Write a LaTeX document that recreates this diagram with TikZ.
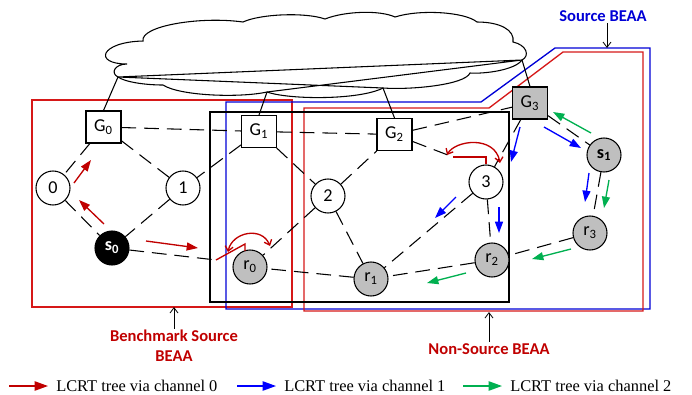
\documentclass[tikz,border=0pt]{standalone}
\usepackage{fontspec}
\setmainfont{Carlito}
\newfontfamily\legendfont{Liberation Serif}
\usetikzlibrary{arrows.meta}
\definecolor{chred}{RGB}{192,0,0}
\definecolor{chblue}{RGB}{0,0,255}
\definecolor{chgreen}{RGB}{0,176,80}
\definecolor{boxred}{RGB}{214,24,24}
\definecolor{boxblue}{RGB}{0,0,214}
\definecolor{nodegray}{RGB}{191,191,191}

\begin{document}
\begin{tikzpicture}[x=0.75pt,y=0.75pt,yscale=-1,xscale=1,
  lbl/.style={font=\fontsize{13.6}{16}\selectfont},
  gway/.style={lbl,draw,fill=white,line width=0.8pt,minimum width=26.25pt,minimum height=24pt,inner sep=0pt},
  su/.style={lbl,draw,circle,fill=white,line width=0.8pt,minimum size=25.5pt,inner sep=0pt},
  pu/.style={su,fill=nodegray},
  link/.style={line width=0.8pt,dash pattern=on 11pt off 6pt},
  wire/.style={line width=0.8pt},
  area/.style={line width=1pt},
  ch0/.style={chred,line width=1pt,-{Triangle[length=8.5pt,width=6pt]}},
  ch1/.style={chblue,line width=1pt,-{Triangle[length=8.5pt,width=6pt]}},
  ch2/.style={chgreen,line width=1pt,-{Triangle[length=8.5pt,width=6pt]}},
  swap/.style={chred,line width=1pt},
  hop/.style={chred,line width=1pt,{Straight Barb[length=3.5pt,width=6pt]}-{Straight Barb[length=3.5pt,width=6pt]}},
  tag/.style={font=\bfseries\fontsize{12.4}{15}\selectfont,align=center,inner sep=1pt},
  pointer/.style={line width=0.6pt,-{Straight Barb[length=4pt,width=6pt]}},
  legtext/.style={font=\legendfont\fontsize{12.3}{14}\selectfont,anchor=west,inner sep=0pt},
  legarrow/.style={line width=1pt,shorten >=6pt,-{Triangle[length=10pt,width=7pt]}}
]
\useasboundingbox (0,0) rectangle (692,394);

\draw[area,boxred] (32,100) rectangle (292,307);
\draw[area,boxblue] (226,102) -- (481,102) -- (555,48) -- (650,48) -- (650,309) -- (226,309) -- cycle;
\draw[area,boxred] (304,108) -- (489,108) -- (563,52) -- (643,52) -- (643,311) -- (304,311) -- cycle;
\draw[line width=2.2pt] (210,112) rectangle (509,302);

\draw[wire] (118,77) .. controls (110,73) and (115,64) .. (127,64) .. controls (93,64) and (100,42) .. (143,41) .. controls (140,26) and (200,16) .. (243,22) .. controls (260,14) and (305,12) .. (325,19) .. controls (345,11) and (380,10) .. (395,17) .. controls (420,9) and (465,12) .. (477,22) .. controls (500,22) and (515,30) .. (513,42) .. controls (527,45) and (530,56) .. (522,60) .. controls (515,70) and (485,74) .. (470,73) .. controls (465,85) and (410,90) .. (383,88) .. controls (360,100) and (290,100) .. (267,92) .. controls (240,98) and (180,96) .. (163,85) .. controls (145,85) and (125,82) .. (118,77) -- cycle;
\coordinate (cl) at (118,77);
\coordinate (cr) at (522,60);
\coordinate (cb1) at (267,92);
\coordinate (cb2) at (383,88);
\draw[wire] (cl) -- (cr) (cl) -- (cb2) (cb1) -- (cr);

\node[gway] (G0) at (103.5,127) {G\textsubscript{0}};
\node[gway] (G1) at (259,131.5) {G\textsubscript{1}};
\node[gway] (G2) at (394.5,134.5) {G\textsubscript{2}};
\node[gway,fill=nodegray] (G3) at (530,103) {G\textsubscript{3}};
\node[su] (n0) at (53,188) {0};
\node[su] (n1) at (183,188) {1};
\node[su] (n2) at (328,196) {2};
\node[su] (n3) at (486,182) {3};
\node[su,fill=black,text=white,font=\bfseries\fontsize{13.6}{16}\selectfont] (s0) at (112,248) {s\textsubscript{0}};
\node[pu] (r0) at (250,267) {r\textsubscript{0}};
\node[pu] (r1) at (371,279) {r\textsubscript{1}};
\node[pu] (r2) at (492,260) {r\textsubscript{2}};
\node[pu,font=\bfseries\fontsize{13.6}{16}\selectfont] (s1) at (604,155) {s\textsubscript{1}};
\node[pu] (r3) at (590,233) {r\textsubscript{3}};
\coordinate (sw0) at (216,260);
\coordinate (sw3) at (453,157);

\draw[wire] (cl) -- (G0.north) (cb1) -- (G1.north) (cb2) -- (G2.north) (cr) -- (G3.north);
\draw[link] (G0) -- (n0) (G0) -- (n1) (G0) -- (G1) (n0) -- (s0) (n1) -- (s0) (s0) -- (sw0);
\draw[link] (G1) -- (n1) (G1) -- (n2) (G1) -- (G2) (n2) -- (r0) (n2) -- (r1) (n2) -- (G2);
\draw[link] (G2) -- (sw3) (G2) -- (G3) (G3) -- (n3) (G3) -- (s1) (s1) -- (r3) (r3) -- (r2);
\draw[link] (n3) -- (r2) (n3) -- (r1) (r2) -- (r1) (r1) -- (r0);

\draw[swap] (sw0) -- ++(29,-16) -- ++(0,7);
\draw[swap] (sw3) -| (n3.north);
\draw[hop] (228,252) .. controls (232,232) and (262,226) .. (270,246);
\draw[hop] (447,155) .. controls (455,140) and (495,135) .. (500,163);

\draw[ch0] (74,183) -- (91,160);
\draw[ch0] (104,224) -- (79,200);
\draw[ch0] (146,241) -- (198,248);
\draw[ch1] (520,127) -- (511,162);
\draw[ch1] (544,127) -- (581,148);
\draw[ch1] (589,173) -- (585,202);
\draw[ch1] (499,207) -- (499,233);
\draw[ch1] (456,197) -- (435,218);
\draw[ch2] (591,133) -- (553,112);
\draw[ch2] (609,180) -- (604,208);
\draw[ch2] (571,249) -- (532,259);
\draw[ch2] (466,273) -- (427,283);

\node[tag,text=boxblue] (srclbl) at (603,16) {Source BEAA};
\coordinate (srctop) at (607,48);
\draw[pointer] (srclbl.south -| srctop) -- (srctop);
\node[tag,text=chred] (bmlbl) at (174,346) {Benchmark Source\\BEAA};
\coordinate (bmbot) at (174,307);
\draw[pointer] (bmlbl) -- (bmbot);
\node[tag,text=chred] (nslbl) at (489,349) {Non-Source BEAA};
\coordinate (nsbot) at (489,312);
\draw[pointer] (nslbl) -- (nsbot);

\coordinate (k0) at (9,386);
\coordinate (k1) at (237,386);
\coordinate (k2) at (463,386);
\node[legtext] (t0) at (56,386) {LCRT tree via channel 0};
\node[legtext] (t1) at (284,386) {LCRT tree via channel 1};
\node[legtext] (t2) at (510,386) {LCRT tree via channel 2};
\draw[legarrow,chred] (k0) -- (t0.west);
\draw[legarrow,chblue] (k1) -- (t1.west);
\draw[legarrow,chgreen] (k2) -- (t2.west);
\end{tikzpicture}
\end{document}
